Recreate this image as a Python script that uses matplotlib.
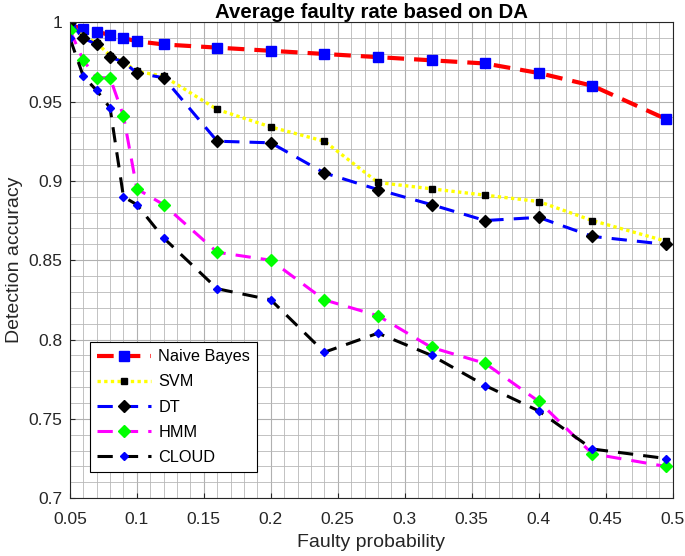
import matplotlib
matplotlib.use("Agg")
import matplotlib.pyplot as plt
from matplotlib.ticker import MultipleLocator

plt.rcParams["font.family"] = ["Liberation Sans", "DejaVu Sans"]

FAULTY_P = [0.05, 0.06, 0.07, 0.08, 0.09, 0.10, 0.12, 0.16, 0.20, 0.24,
            0.28, 0.32, 0.36, 0.40, 0.44, 0.495]

NAIVE_BAYES = [0.998, 0.996, 0.994, 0.992, 0.990, 0.988, 0.986, 0.984, 0.982, 0.980,
               0.978, 0.976, 0.974, 0.968, 0.960, 0.939]
SVM = [0.999, 0.991, 0.987, 0.979, 0.975, 0.969, 0.966, 0.945, 0.934, 0.925,
       0.899, 0.895, 0.891, 0.887, 0.875, 0.862]
DT = [1.000, 0.990, 0.986, 0.978, 0.975, 0.968, 0.965, 0.925, 0.924, 0.905,
      0.8945, 0.885, 0.875, 0.877, 0.865, 0.860]
HMM = [0.995, 0.976, 0.965, 0.965, 0.941, 0.895, 0.885, 0.855, 0.850, 0.825,
       0.815, 0.795, 0.785, 0.761, 0.728, 0.720]
CLOUD = [0.990, 0.966, 0.957, 0.946, 0.890, 0.885, 0.864, 0.832, 0.825, 0.792,
         0.804, 0.790, 0.771, 0.755, 0.731, 0.725]

X_TICKS = [0.05, 0.1, 0.15, 0.2, 0.25, 0.3, 0.35, 0.4, 0.45, 0.5]
X_TICK_LABELS = ["0.05", "0.1", "0.15", "0.2", "0.25", "0.3", "0.35", "0.4", "0.45", "0.5"]
Y_TICKS = [0.7, 0.75, 0.8, 0.85, 0.9, 0.95, 1.0]
Y_TICK_LABELS = ["0.7", "0.75", "0.8", "0.85", "0.9", "0.95", "1"]

fig = plt.figure(figsize=(6.85, 5.56), dpi=100)
ax = fig.add_axes([0.102, 0.104, 0.880, 0.856])

ax.plot(FAULTY_P, NAIVE_BAYES, color="red", ls=(0, (4, 2.4)), lw=3,
        marker="s", ms=6.5, mfc="blue", mec="blue", label="Naive Bayes")
ax.plot(FAULTY_P, SVM, color="yellow", ls=(0, (1, 1)), lw=2.4,
        marker="s", ms=3.8, mfc="black", mec="black", label="SVM")
ax.plot(FAULTY_P, DT, color="blue", ls=(0, (5, 3.3)), lw=2.2,
        marker="D", ms=6.5, mfc="black", mec="black", label="DT")
ax.plot(FAULTY_P, HMM, color="magenta", ls=(0, (5, 3.3)), lw=2.2,
        marker="D", ms=6.5, mfc="#00ff00", mec="#00ff00", label="HMM")
ax.plot(FAULTY_P, CLOUD, color="black", ls=(0, (5, 3.3)), lw=2.2,
        marker="D", ms=4.5, mfc="blue", mec="blue", label="CLOUD")

ax.set_xlim(0.05, 0.5)
ax.set_ylim(0.7, 1.0)
ax.xaxis.set_minor_locator(MultipleLocator(0.01))
ax.yaxis.set_minor_locator(MultipleLocator(0.01))
ax.set_xticks(X_TICKS)
ax.set_xticklabels(X_TICK_LABELS)
ax.set_yticks(Y_TICKS)
ax.set_yticklabels(Y_TICK_LABELS)
ax.tick_params(which="both", direction="in", labelsize=12.5, colors="#262626")
ax.tick_params(axis="x", which="major", pad=10)
ax.tick_params(axis="y", which="major", pad=5.5)
ax.tick_params(which="minor", length=0)
ax.grid(True, which="major", color="#b0b0b0", lw=0.8)
ax.grid(True, which="minor", color="#b8b8b8", lw=0.6)
ax.set_axisbelow(True)
for s in ax.spines.values():
    s.set_color("#262626")

ax.set_xlabel("Faulty probability", fontsize=14, color="#262626", labelpad=5)
ax.set_ylabel("Detection accuracy", fontsize=14, color="#262626", labelpad=3.5)
ax.set_title("Average faulty rate based on DA", fontsize=14.7, fontweight="bold", pad=3)

leg = ax.legend(loc="lower left", bbox_to_anchor=(0.02, 0.038), fontsize=11.7,
                handlelength=3.3, handletextpad=0.45, fancybox=False,
                edgecolor="black", framealpha=1, borderpad=0.45, labelspacing=0.62)
leg.get_frame().set_linewidth(0.8)

fig.savefig("out.png", dpi=100)
